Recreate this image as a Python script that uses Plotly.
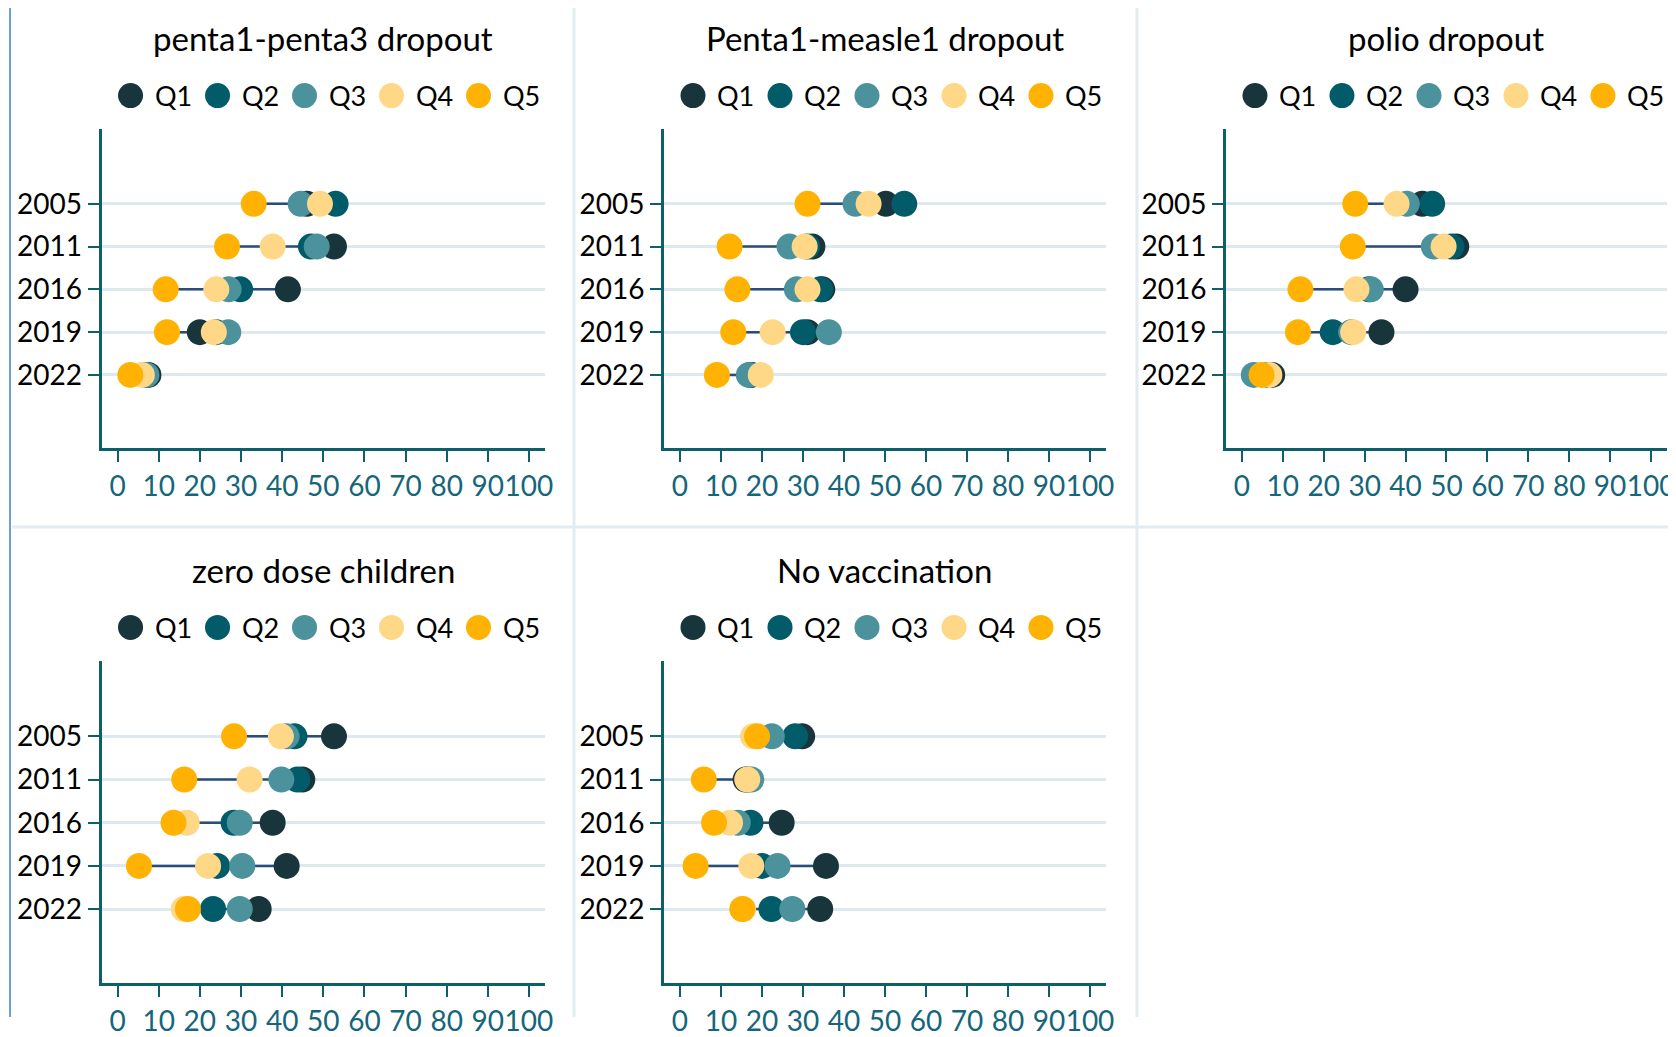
import plotly.graph_objects as go

# The page places the figure 8 px from the top-left corner (default body margin).
# With a 1668x1029 figure the page is larger than the window and is fitted into
# the 1676x1037 picture, so positions are pre-scaled by the measured ratio.
OFF = 8
W, H = 1676 - OFF, 1037 - OFF
SX = 1676 / (W + 2 * OFF)
SY = 1037 / (H + 2 * OFF) * 0.994

years = ["2005", "2011", "2016", "2019", "2022"]
quintiles = ["Q1", "Q2", "Q3", "Q4", "Q5"]
colors = ["#18353b", "#025b69", "#4b929d", "#fed887", "#ffb202"]

titles = ["penta1-penta3 dropout", "Penta1-measle1 dropout", "polio dropout",
          "zero dose children", "No vaccination"]

# values per quintile for years 2005, 2011, 2016, 2019, 2022
penta3_q1 = [46, 52.6, 41.4, 20, 7.5]
penta3_q2 = [53, 47, 29.8, 24, 7]
penta3_q3 = [44.5, 48.4, 27, 26.9, 7]
penta3_q4 = [49.2, 37.7, 24, 23.4, 5.9]
penta3_q5 = [33.1, 26.6, 11.7, 12, 3.1]

measles_q1 = [50.2, 32.3, 34.7, 31.1, 17.5]
measles_q2 = [54.7, 31, 34.2, 30, 17]
measles_q3 = [42.8, 26.7, 28.5, 36.3, 16.8]
measles_q4 = [46, 30.4, 31.1, 22.6, 19.7]
measles_q5 = [31.1, 12.1, 14, 13, 9]

polio_q1 = [44.1, 52.4, 40, 34.1, 7.4]
polio_q2 = [46.5, 51.2, 31, 22.2, 6.3]
polio_q3 = [40.3, 46.9, 31.5, 26.7, 2.9]
polio_q4 = [37.8, 49.3, 28, 27.2, 6.7]
polio_q5 = [27.7, 27.1, 14.3, 13.7, 4.8]

zero_q1 = [52.6, 44.9, 37.7, 41.1, 34.3]
zero_q2 = [43, 43.7, 28.2, 24.2, 23.2]
zero_q3 = [41.1, 39.8, 29.7, 30.3, 29.7]
zero_q4 = [39.7, 32.1, 16.8, 22, 16.1]
zero_q5 = [28.3, 16.2, 13.6, 5.2, 17.1]

novac_q1 = [29.8, 16, 24.8, 35.6, 34.2]
novac_q2 = [28.1, 16.5, 17.2, 20, 22.3]
novac_q3 = [22.4, 17.4, 14.1, 23.8, 27.4]
novac_q4 = [17.8, 16.4, 12.2, 17.4, 15.4]
novac_q5 = [18.8, 5.8, 8.3, 3.8, 15.2]

panels = [
    [penta3_q1, penta3_q2, penta3_q3, penta3_q4, penta3_q5],
    [measles_q1, measles_q2, measles_q3, measles_q4, measles_q5],
    [polio_q1, polio_q2, polio_q3, polio_q4, polio_q5],
    [zero_q1, zero_q2, zero_q3, zero_q4, zero_q5],
    [novac_q1, novac_q2, novac_q3, novac_q4, novac_q5],
]

xtick_vals = list(range(0, 101, 10))

# layout geometry (picture pixels)
col_x = [(101.5, 545), (664, 1106), (1226, 1667)]
row_y = [(130, 451), (665, 989)]
title_y = [38, 573]
legend_y = [96, 631]
LEG_OFF = 29        # first legend marker offset from y-axis line
LEG_STEP = 87       # spacing between legend entries
LEG_R = 12.5        # legend marker radius
LEG_TXT = 22        # text start offset from marker centre


def px(x):
    return (x / SX - OFF) / W


def py(y):
    return 1 - (y / SY - OFF) / H


AXIS_COL = "#0e5f6c"
TICK_TXT = "#15667a"
GRID_COL = "#dde9ef"
LINE_COL = "#2a4c78"
FONT = "Lato"

fig = go.Figure()
layout = dict(
    width=W, height=H,
    margin=dict(l=0, r=0, t=0, b=0),
    paper_bgcolor="white", plot_bgcolor="white",
    font=dict(family=FONT, size=27, color="black"),
    showlegend=False,
    annotations=[], shapes=[],
)

for p, vals in enumerate(panels):
    r, c = divmod(p, 3)
    idx = p + 1
    xa = "x" if idx == 1 else f"x{idx}"
    ya = "y" if idx == 1 else f"y{idx}"
    x0, x1 = col_x[c]
    y0, y1 = row_y[r]

    # connecting min-max lines
    lx, ly = [], []
    for j, yr in enumerate(years):
        row_vals = [vals[q][j] for q in range(5)]
        lx += [min(row_vals), max(row_vals), None]
        ly += [yr, yr, None]
    fig.add_trace(go.Scatter(x=lx, y=ly, mode="lines", line=dict(color=LINE_COL, width=2.5),
                             showlegend=False, hoverinfo="skip", xaxis=xa, yaxis=ya))
    for q in range(5):
        fig.add_trace(go.Scatter(
            x=vals[q], y=years, mode="markers", name=quintiles[q],
            marker=dict(color=colors[q], size=26, line=dict(width=0)),
            xaxis=xa, yaxis=ya,
        ))

    layout[f"xaxis{'' if idx == 1 else idx}"] = dict(
        domain=[px(x0), px(x1)], anchor=ya, range=[-3.9, 103.9],
        tickvals=xtick_vals, tickangle=0, ticks="outside", ticklen=11, tickwidth=2,
        tickcolor=AXIS_COL, showline=True, linecolor=AXIS_COL, linewidth=3,
        showgrid=False, zeroline=False, ticklabeloverflow="allow",
        tickfont=dict(family=FONT, size=28, color=TICK_TXT),
    )
    layout[f"yaxis{'' if idx == 1 else idx}"] = dict(
        domain=[py(y1), py(y0)], anchor=xa, type="category",
        categoryorder="array", categoryarray=years, range=[5.72, -1.74],
        ticks="outside", ticklen=11, tickwidth=2, tickcolor=AXIS_COL,
        showline=True, linecolor=AXIS_COL, linewidth=3,
        showgrid=True, gridcolor=GRID_COL, gridwidth=3, zeroline=False,
        tickfont=dict(family=FONT, size=28, color="black"),
    )
    layout["annotations"].append(dict(
        text=titles[p], xref="paper", yref="paper", x=px((x0 + x1) / 2), y=py(title_y[r]),
        xanchor="center", yanchor="middle", showarrow=False,
        font=dict(family=FONT, size=33, color="black"),
    ))
    # legend: circle + label per quintile
    for q in range(5):
        mx = x0 + LEG_OFF + q * LEG_STEP
        layout["shapes"].append(dict(
            type="circle", xref="paper", yref="paper", xsizemode="pixel", ysizemode="pixel",
            xanchor=px(mx), yanchor=py(legend_y[r]), x0=-LEG_R, x1=LEG_R, y0=-LEG_R, y1=LEG_R,
            fillcolor=colors[q], line=dict(width=0),
        ))
        layout["annotations"].append(dict(
            text=quintiles[q], xref="paper", yref="paper",
            x=px(mx + LEG_TXT), y=py(legend_y[r]),
            xanchor="left", yanchor="middle", showarrow=False,
            font=dict(family=FONT, size=27, color="black"),
        ))

# panel separators and outer frame
SEP = "#e2edf1"
FRAME = "#6f9bd4"
layout["shapes"] += [
    dict(type="line", xref="paper", yref="paper", x0=px(574), x1=px(574), y0=0, y1=1,
         line=dict(color=SEP, width=3)),
    dict(type="line", xref="paper", yref="paper", x0=px(1137), x1=px(1137), y0=0, y1=1,
         line=dict(color=SEP, width=3)),
    dict(type="line", xref="paper", yref="paper", x0=px(12), x1=1, y0=py(530), y1=py(530),
         line=dict(color=SEP, width=3)),
    dict(type="line", xref="paper", yref="paper", x0=px(10), x1=px(10), y0=0, y1=1,
         line=dict(color=FRAME, width=2)),
]

fig.update_layout(**layout)
fig.write_html("out.html")
